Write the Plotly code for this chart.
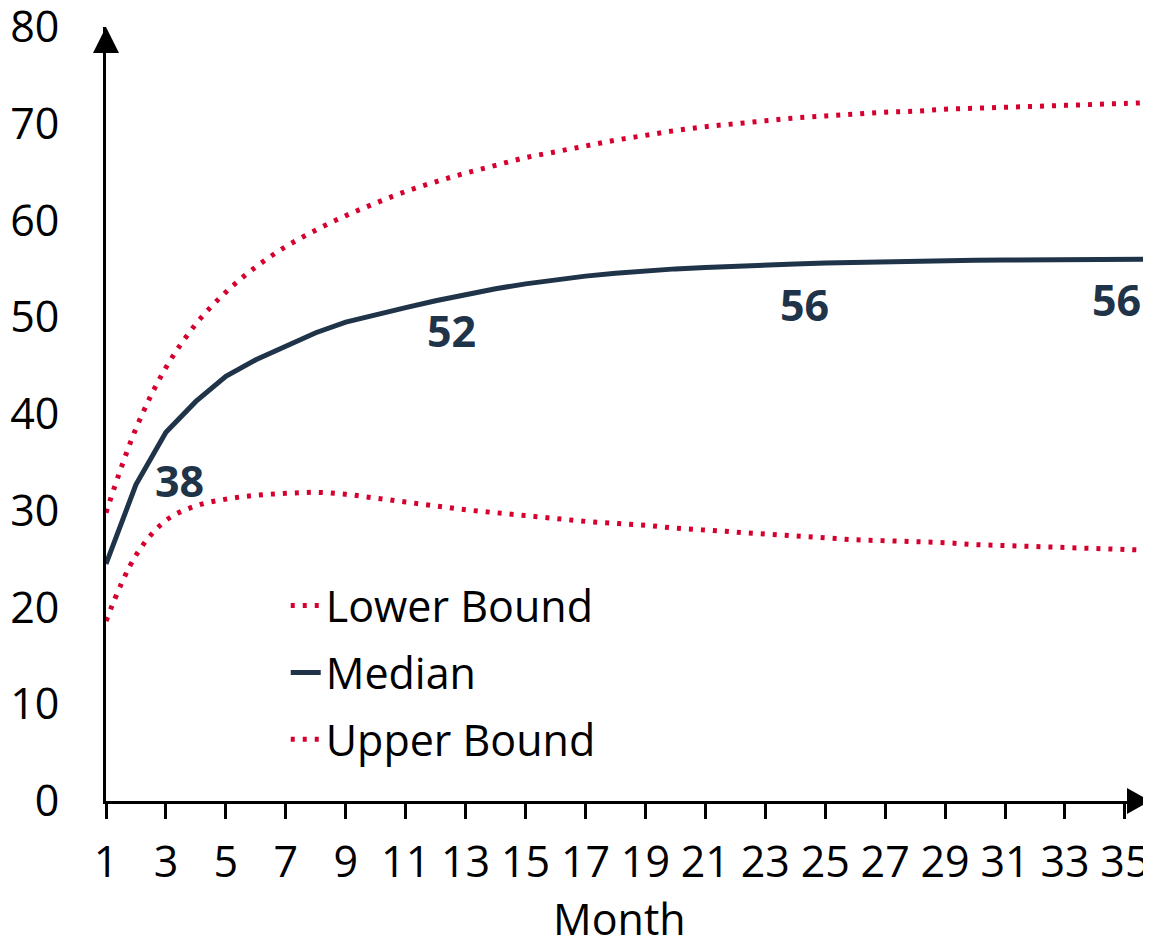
import plotly.graph_objects as go

months = list(range(1, 37))
lower_bound = [18.6, 25.4, 29.0, 30.5, 31.2, 31.6, 31.8, 31.9, 31.7, 31.3, 30.9, 30.5,
               30.1, 29.8, 29.5, 29.2, 28.9, 28.7, 28.5, 28.2, 28.0, 27.8, 27.6, 27.4,
               27.2, 27.0, 26.9, 26.8, 26.7, 26.5, 26.4, 26.3, 26.2, 26.1, 26.0, 25.9]
median = [24.5, 32.7, 38.1, 41.3, 43.9, 45.6, 47.0, 48.4, 49.5, 50.3, 51.0, 51.7,
          52.35, 52.95, 53.45, 53.9, 54.25, 54.55, 54.8, 55.0, 55.15, 55.3, 55.4, 55.5,
          55.6, 55.68, 55.75, 55.8, 55.85, 55.9, 55.92, 55.95, 55.97, 56.0, 56.0, 56.0]
upper_bound = [29.8, 38.5, 44.8, 49.3, 52.6, 55.2, 57.3, 59.0, 60.5, 61.8, 63.0, 64.0,
               64.9, 65.7, 66.5, 67.1, 67.7, 68.3, 68.8, 69.3, 69.7, 70.0, 70.3, 70.6,
               70.8, 71.0, 71.2, 71.3, 71.5, 71.6, 71.7, 71.8, 71.9, 72.0, 72.1, 72.2]
x_ticks = list(range(1, 36, 2))
y_ticks = list(range(0, 81, 10))
x_title = "Month"
label_months = [3, 12, 24, 35]
label_text = ["38", "52", "56", "56"]
label_shift = [(14, -48), (16, -30), (9, -40), (-8, -40)]

RED = "#d6002f"
NAVY = "#1f3349"
FONT = "Open Sans"
FS = 43

fig = go.Figure()
fig.add_trace(go.Scatter(x=months, y=lower_bound, mode="lines", name="Lower Bound",
                         legendgroup="a", line=dict(color=RED, width=5, dash="4px,8px", shape="spline")))
fig.add_trace(go.Scatter(x=months, y=median, mode="lines", name="Median",
                         legendgroup="b", line=dict(color=NAVY, width=5)))
fig.add_trace(go.Scatter(x=months, y=upper_bound, mode="lines", name="Upper Bound",
                         legendgroup="c", line=dict(color=RED, width=5, dash="4px,8px", shape="spline")))

for m, t, (dx, dy) in zip(label_months, label_text, label_shift):
    fig.add_annotation(x=m, y=median[months.index(m)], text=t, showarrow=False,
                       xshift=dx, yshift=dy,
                       font=dict(family=FONT, size=FS, color=NAVY, weight="bold"))

# x axis title (as annotation so its distance from the axis can be set exactly)
fig.add_annotation(x=0.5, y=0, xref="paper", yref="paper", text=x_title, showarrow=False,
                   xanchor="center", yanchor="middle", xshift=-9, yshift=-117,
                   font=dict(family=FONT, size=FS, color="black"))

# axis arrows
fig.add_shape(type="path", xref="paper", yref="paper", xsizemode="pixel", ysizemode="pixel",
              xanchor=0, yanchor=1, path="M -13 -26 L 0 0 L 13 -26 Z",
              fillcolor="black", line=dict(width=0))
fig.add_shape(type="path", xref="paper", yref="paper", xsizemode="pixel", ysizemode="pixel",
              xanchor=1, yanchor=0, path="M -24 13 L -1 0 L -24 -13 Z",
              fillcolor="black", line=dict(width=0))

# page body has an 8px margin, so the figure is sized/offset to compensate
fig.update_layout(
    width=1143, height=931,
    margin=dict(l=98, r=0, t=19, b=138, autoexpand=False),
    plot_bgcolor="white", paper_bgcolor="white",
    font=dict(family=FONT, size=FS, color="black"),
    showlegend=True,
    legend=dict(x=0.172, y=0.297, xanchor="left", yanchor="top",
                font=dict(family=FONT, size=FS, color="black"),
                tracegroupgap=8, bgcolor="rgba(0,0,0,0)"),
    xaxis=dict(range=[1, 35.87], tickvals=x_ticks, showgrid=False, zeroline=False,
               showline=True, linecolor="black", linewidth=3, automargin=False,
               ticks="outside", ticklen=15, tickwidth=3, tickcolor="black",
               ticklabelstandoff=6, ticklabeloverflow="allow"),
    yaxis=dict(range=[0, 80], tickvals=y_ticks, showgrid=False, zeroline=False,
               showline=True, linecolor="black", linewidth=3, ticks="", automargin=False,
               ticklabelstandoff=35, ticklabeloverflow="allow"),
)

fig.write_html("out.html")
